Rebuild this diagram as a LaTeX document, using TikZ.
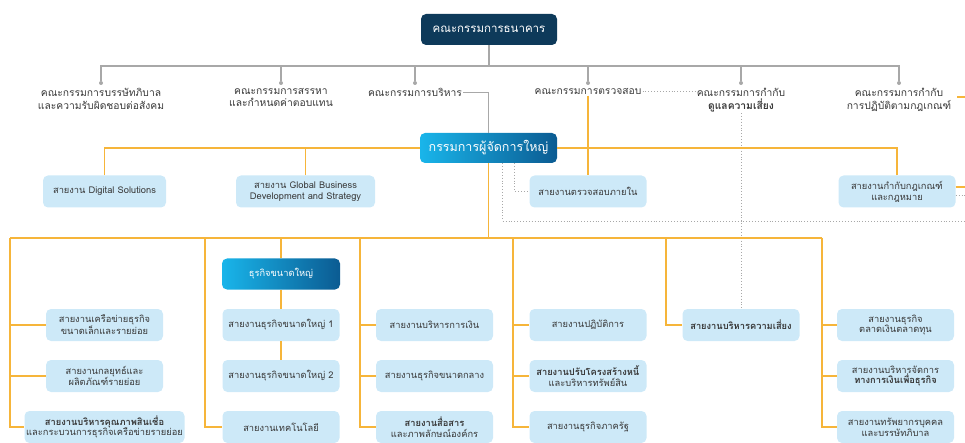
\documentclass[tikz,border=0pt]{standalone}
\usepackage{fontspec}
\setmainfont{Loma}[Script=Thai]
\usetikzlibrary{positioning}

\definecolor{navy}{HTML}{0E3A5A}
\definecolor{ceoleft}{HTML}{19B5EA}
\definecolor{ceoright}{HTML}{0B5B92}
\definecolor{boxblue}{HTML}{CDE9F8}
\definecolor{lineorange}{HTML}{F6B53A}
\definecolor{linegray}{HTML}{A8A8A8}
\definecolor{txtgray}{HTML}{383838}

\begin{document}
\begin{tikzpicture}[
            x = 1pt, y = -1pt, % one unit per pixel, y going down
            node distance = 51pt, % distance between stacked boxes
            font = \fontsize{9.3}{10.8}\selectfont,
            text = txtgray,
            box/.style = {rounded corners=5pt, align=center, inner sep=0pt, minimum height=32pt},
            board/.style = {box, fill=navy, text=white, minimum width=136pt, minimum height=31pt, font=\fontsize{11.5}{13}\selectfont},
            ceo/.style = {box, left color=ceoleft, right color=ceoright, text=white, minimum width=137pt, minimum height=30pt, font=\fontsize{12.5}{14}\selectfont},
            group/.style = {box, left color=ceoleft, right color=ceoright, text=white, minimum width=118pt, minimum height=31pt},
            unit/.style = {box, fill=boxblue, minimum width=117pt},
            committee/.style = {align=center, inner sep=1pt, font=\fontsize{10.3}{12.5}\selectfont},
            dot/.style = {circle, fill=linegray, inner sep=0pt, minimum size=4pt},
            grayline/.style = {draw=linegray, line width=1.2pt},
            orangeline/.style = {draw=lineorange, line width=1.5pt},
            dotline/.style = {draw=linegray, dotted, line width=0.9pt}
        ]
	\useasboundingbox (0,0) rectangle (965,443);

	% board and committees
	\node[board] (board) at (489,29.5) {คณะกรรมการธนาคาร};
	\node[dot] (d1) at (101,83) {};
	\node[dot] (d2) at (281,83) {};
	\node[dot] (d3) at (415,83) {};
	\node[dot] (d4) at (588,83) {};
	\node[dot] (d5) at (741,83) {};
	\node[dot] (d6) at (899,83) {};
	\node[committee, below=2pt of d1] (cgov) {คณะกรรมการบรรษัทภิบาล\\และความรับผิดชอบต่อสังคม};
	\node[committee, below=2pt of d2] (cnom) {คณะกรรมการสรรหา\\และกำหนดค่าตอบแทน};
	\node[committee, below=2pt of d3] (cexe) {คณะกรรมการบริหาร};
	\node[committee, below=2pt of d4] (caud) {คณะกรรมการตรวจสอบ};
	\node[committee, below=2pt of d5] (crisk) {คณะกรรมการกำกับ\\\textbf{ดูแลความเสี่ยง}};
	\node[committee, below=2pt of d6] (ccomp) {คณะกรรมการกำกับ\\การปฏิบัติตามกฎเกณฑ์};

	% president and staff units
	\node[ceo] (ceo) at (488.5,148) {กรรมการผู้จัดการใหญ่};
	\node[unit, minimum width=123pt] (digital) at (104.5,191.5) {สายงาน Digital Solutions};
	\node[unit, minimum width=139pt] (global) at (305.5,191.5) {สายงาน Global Business\\Development and Strategy};
	\node[unit] (audit) at (588,191.5) {สายงานตรวจสอบภายใน};
	\node[unit] (comply) at (897,191.5) {สายงานกำกับกฎเกณฑ์\\และกฎหมาย};

	% business groups
	\node[unit] (c11) at (104.5,325) {สายงานเครือข่ายธุรกิจ\\ขนาดเล็กและรายย่อย};
	\node[unit] (c12) [below of=c11] {สายงานกลยุทธ์และ\\ผลิตภัณฑ์รายย่อย};
	\node[unit, minimum width=160pt] (c13) [below of=c12] {\textbf{สายงานบริหารคุณภาพสินเชื่อ}\\และกระบวนการธุรกิจเครือข่ายรายย่อย};

	\node[group] (large) at (281,274) {ธุรกิจขนาดใหญ่};
	\node[unit] (c21) [below of=large] {สายงานธุรกิจขนาดใหญ่ 1};
	\node[unit] (c22) [below of=c21] {สายงานธุรกิจขนาดใหญ่ 2};
	\node[unit] (c23) [below of=c22] {สายงานเทคโนโลยี};

	\node[unit] (c31) at (434.5,325) {สายงานบริหารการเงิน};
	\node[unit] (c32) [below of=c31] {สายงานธุรกิจขนาดกลาง};
	\node[unit] (c33) [below of=c32] {\textbf{สายงานสื่อสาร}\\และภาพลักษณ์องค์กร};

	\node[unit] (c41) at (588,325) {สายงานปฏิบัติการ};
	\node[unit] (c42) [below of=c41] {\textbf{สายงานปรับโครงสร้างหนี้}\\และบริหารทรัพย์สิน};
	\node[unit] (c43) [below of=c42] {สายงานธุรกิจภาครัฐ};

	\node[unit] (c51) at (741,325) {\textbf{สายงานบริหารความเสี่ยง}};

	\node[unit] (c61) at (895.5,325) {สายงานธุรกิจ\\ตลาดเงินตลาดทุน};
	\node[unit] (c62) [below of=c61] {สายงานบริหารจัดการ\\\textbf{ทางการเงินเพื่อธุรกิจ}};
	\node[unit] (c63) [below of=c62] {สายงานทรัพยากรบุคคล\\และบรรษัทภิบาล};

	% loose ends at the right edge
	\coordinate (bus) at (489,66);
	\coordinate (trunk) at (488.5,238);
	\coordinate (edgeA) at (965,97);
	\coordinate (edgeB) at (965,187);
	\coordinate (edgeC) at (965,195);
	\coordinate (edgeD) at (965,221);

	\draw[grayline] (board) -- (bus);
	\foreach \d in {d1,d2,d3,d4,d5,d6}
		\draw[grayline] (\d) |- (bus);
	\draw[grayline] (cexe) -| (ceo);
	\draw[dotline] (caud) -- (caud -| crisk.west);
	\draw[dotline] (crisk) -- (c51);
	\draw[orangeline] (caud) -- (audit);
	\draw[orangeline] ([xshift=5pt]ccomp.east |- edgeA) -- (edgeA);

	\draw[orangeline] (digital) |- (ceo);
	\draw[orangeline] (global) |- (ceo);
	\draw[orangeline] (comply) |- (ceo);
	\draw[orangeline] (comply.east |- edgeB) -- (edgeB);
	\draw[dotline] (comply.east |- edgeC) -- (edgeC);
	\draw[dotline] ([xshift=26pt]ceo.south) |- (audit);
	\draw[dotline] ([xshift=14pt]ceo.south) |- (edgeD);

	\draw[orangeline] (ceo) -- (trunk);
	\foreach \k/\x in {k1/10,k2/205,k3/360,k4/513,k5/666,k6/822}
		\coordinate (\k) at (\x,238);
	\draw[orangeline] (k1) -- (k6);
	\foreach \k/\c in {k1/c11,k1/c12,k1/c13,k2/c23,k3/c31,k3/c32,k3/c33,k4/c41,k4/c42,k4/c43,k5/c51,k6/c61,k6/c62,k6/c63}
		\draw[orangeline] (\k) |- (\c);
	\draw[orangeline] (large) -- (large |- trunk);
	\draw[orangeline] (large) -- (c21) -- (c22);

\end{tikzpicture}
\end{document}
